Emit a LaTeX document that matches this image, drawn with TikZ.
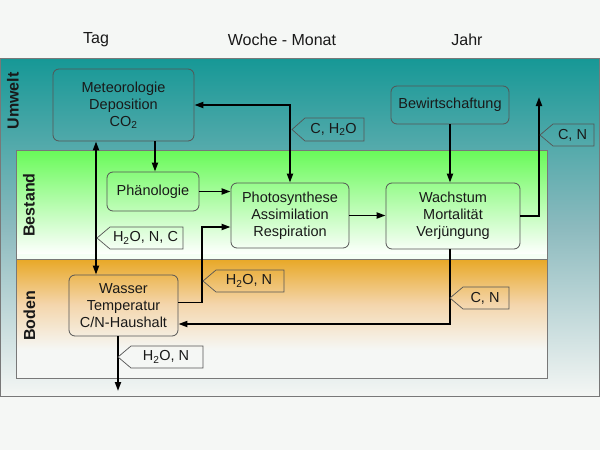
\documentclass[tikz,border=0pt]{standalone}
\usepackage{fontspec}
\setmainfont{Liberation Sans}
\usetikzlibrary{arrows.meta}
\definecolor{bgpaper}{RGB}{245,247,245}
\definecolor{tealtop}{RGB}{22,152,150}
\definecolor{tealmid}{RGB}{140,186,190}
\definecolor{tealbot}{RGB}{244,246,244}
\definecolor{greentop}{RGB}{104,250,88}
\definecolor{orangetop}{RGB}{232,168,38}
\definecolor{orangemid}{RGB}{244,214,172}
\definecolor{frameg}{RGB}{120,120,120}
\definecolor{boxg}{RGB}{85,85,85}
\definecolor{txt}{RGB}{25,25,25}
\newcommand\flowtag[6]{%
  \draw[tagline] (#2,{(#3+#5)/2}) -- (#2+13,#3) -- (#4,#3) -- (#4,#5) -- (#2+13,#5) -- cycle;
  \node[tagtext] (#1) at ({(#2+13+#4)/2-1},{(#3+#5)/2}) {#6};}
\tikzset{
  box/.style={draw=boxg, line width=0.8pt, rounded corners=6pt, align=center,
    inner sep=0pt, font=\fontsize{14.5}{17}\selectfont, text=txt},
  tagline/.style={draw=boxg, line width=0.7pt},
  tagtext/.style={inner sep=0pt, font=\fontsize{14.5}{17}\selectfont, text=txt},
  head/.style={font=\fontsize{16}{19}\selectfont, text=txt},
  side/.style={font=\fontsize{16}{19}\selectfont\bfseries, text=txt, rotate=90},
  flow/.style={line width=1.9pt, black, -{Triangle[length=9pt,width=6pt]}},
  flow2/.style={line width=1.9pt, black, {Triangle[length=9pt,width=6pt]}-{Triangle[length=9pt,width=6pt]}},
}
\begin{document}
\begin{tikzpicture}[x=1pt,y=-1pt]
\useasboundingbox (0,0) rectangle (600,450);
\fill[bgpaper] (0,0) rectangle (600,450);
% outer region
\shade[top color=tealtop, bottom color=tealbot, middle color=tealmid] (0,58) rectangle (599,396);
\draw[frameg, line width=1pt] (0.5,58) rectangle (599,396);
% Bestand
\shade[top color=greentop, bottom color=white] (16,150) rectangle (547,255);
\fill[white!96!green] (16,254) rectangle (547,259.5);
% Boden
\shade[top color=orangetop, bottom color=bgpaper, middle color=orangemid] (16,259) rectangle (547,350);
\fill[bgpaper] (16,349.5) rectangle (547,378);
\draw[frameg, line width=0.8pt] (16,259) -- (547,259);
\draw[frameg, line width=0.8pt] (16,150) rectangle (547,378);
% headers
\node[head] (hTag) at (96,40) {Tag};
\node[head] (hWoche) at (282,40) {Woche - Monat};
\node[head] (hJahr) at (467,40) {Jahr};
% side labels
\node[side] (lUmwelt) at (13,101) {Umwelt};
\node[side] (lBestand) at (29,205) {Bestand};
\node[side] (lBoden) at (29.5,316) {Boden};
% boxes
\node[box, minimum width=141pt, minimum height=72pt] (met) at (123.5,105) {Meteorologie\\Deposition\\CO\textsubscript{2}};
\node[box, minimum width=118pt, minimum height=38pt] (bew) at (450,105) {Bewirtschaftung};
\node[box, minimum width=92pt, minimum height=39pt] (phae) at (153,191.5) {Phänologie};
\node[box, minimum width=118pt, minimum height=65pt] (photo) at (290,215.5) {Photosynthese\\Assimilation\\Respiration};
\node[box, minimum width=134pt, minimum height=66pt] (wach) at (453,216) {Wachstum\\Mortalität\\Verjüngung};
\node[box, minimum width=109pt, minimum height=61pt] (wass) at (123.5,305.5) {Wasser\\Temperatur\\C/N-Haushalt};
% helper coordinates
\coordinate (xa) at (96,0);
\coordinate (xb) at (155,0);
\coordinate (c5) at (202,227);
\coordinate (cn) at (539,97);
\coordinate (c9) at (450,324);
\coordinate (c10) at (118,391);
% connectors
\draw[flow2] (xa |- met.south) -- (xa |- wass.north);
\draw[flow] (xb |- met.south) -- (xb |- phae.north);
\draw[flow2] (met.east) -| (photo.north);
\draw[flow] (phae.east) -- (photo.west |- phae.east);
\draw[flow] ([yshift=3pt]wass.east) -| (c5) -- (photo.west |- c5);
\draw[flow] (photo.east) -- (wach.west |- photo.east);
\draw[flow] (bew.south) -- (bew.south |- wach.north);
\draw[flow] (wach.east) -| (cn);
\draw[flow] (bew.south |- wach.south) -- (c9) -- (wass.east |- c9);
\draw[flow] (c10 |- wass.south) -- (c10);
% tags
\flowtag{tA}{292}{118}{364}{141}{C, H\textsubscript{2}O}
\flowtag{tB}{540}{124}{594}{146}{C, N}
\flowtag{tC}{97}{227}{183}{249}{H\textsubscript{2}O, N, C}
\flowtag{tD}{203}{270}{284}{292}{H\textsubscript{2}O, N}
\flowtag{tE}{450}{287}{509}{309}{C, N}
\flowtag{tF}{118}{346}{203}{368}{H\textsubscript{2}O, N}
\end{tikzpicture}
\end{document}
